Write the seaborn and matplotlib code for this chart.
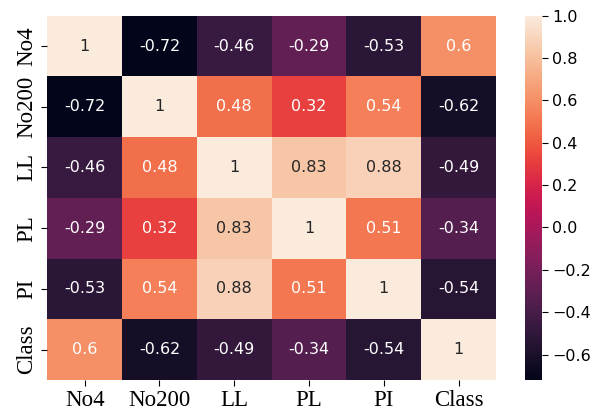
import numpy as np
import pandas as pd
import matplotlib
matplotlib.use("Agg")
import matplotlib.pyplot as plt
import seaborn as sns

labels = ['No4', 'No200', 'LL', 'PL', 'PI', 'Class']
row_no4 = [1, -0.72, -0.46, -0.29, -0.53, 0.6]
row_no200 = [-0.72, 1, 0.48, 0.32, 0.54, -0.62]
row_ll = [-0.46, 0.48, 1, 0.83, 0.88, -0.49]
row_pl = [-0.29, 0.32, 0.83, 1, 0.51, -0.34]
row_pi = [-0.53, 0.54, 0.88, 0.51, 1, -0.54]
row_class = [0.6, -0.62, -0.49, -0.34, -0.54, 1]

corr = pd.DataFrame([row_no4, row_no200, row_ll, row_pl, row_pi, row_class],
                    index=labels, columns=labels)

fig = plt.figure(figsize=(5.94, 4.12), dpi=100)
ax = fig.add_axes([0.0796, 0.0777, 0.7554, 0.8842])
cax = fig.add_axes([0.8838, 0.0777, 0.0281, 0.8842])
sns.heatmap(corr, annot=True, annot_kws={'fontsize': 11.5}, ax=ax, cbar_ax=cax)

for lab in ax.get_xticklabels() + ax.get_yticklabels():
    lab.set_family('Liberation Serif')
    lab.set_fontsize(16.5)
ax.tick_params(length=4)
cax.tick_params(labelsize=11.5, length=4)

plt.savefig('out.png', dpi=100)
